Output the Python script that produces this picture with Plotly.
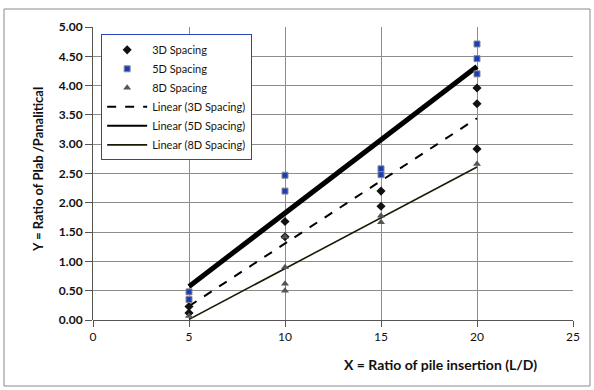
import numpy as np
import plotly.graph_objects as go

# ---- data ----
x_3d = [5, 5, 10, 10, 15, 15, 20, 20, 20]
y_3d = [0.23, 0.12, 1.68, 1.42, 2.20, 1.94, 3.96, 3.69, 2.92]

x_5d = [5, 5, 10, 10, 15, 15, 20, 20, 20]
y_5d = [0.48, 0.35, 2.47, 2.20, 2.58, 2.48, 4.71, 4.46, 4.20]

x_8d = [5, 10, 10, 10, 10, 15, 15, 20]
y_8d = [0.07, 1.42, 0.90, 0.62, 0.50, 1.78, 1.67, 2.66]

x_ticks = [0, 5, 10, 15, 20, 25]
y_ticks = [0.0, 0.5, 1.0, 1.5, 2.0, 2.5, 3.0, 3.5, 4.0, 4.5, 5.0]

FONT = "Lato"


def trend(xs, ys):
    k, b = np.polyfit(xs, ys, 1)
    xx = np.array([min(xs), max(xs)], dtype=float)
    return xx, k * xx + b


fig = go.Figure()

# trendlines
for name, xs, ys, dash, width, color, rank, leg_w in [
    ("Linear (3D Spacing)", x_3d, y_3d, "dash", 2, "#000000", 4, None),
    ("Linear (5D Spacing)", x_5d, y_5d, "solid", 5, "#000000", 5, 2),
    ("Linear (8D Spacing)", x_8d, y_8d, "solid", 1.6, "#1a1a05", 6, None),
]:
    tx, ty = trend(xs, ys)
    fig.add_trace(go.Scatter(
        x=tx, y=ty, mode="lines", name=name, legendrank=rank,
        showlegend=leg_w is None,
        line=dict(color=color, width=width, dash=dash),
    ))
    if leg_w is not None:
        # legend proxy with the thinner legend line, as in the reference
        fig.add_trace(go.Scatter(
            x=[None], y=[None], mode="lines", name=name, legendrank=rank,
            line=dict(color=color, width=leg_w, dash=dash),
        ))

fig.add_trace(go.Scatter(
    x=x_3d, y=y_3d, mode="markers", name="3D Spacing", legendrank=1,
    marker=dict(symbol="diamond", size=7, color="#111111"),
))
fig.add_trace(go.Scatter(
    x=x_5d, y=y_5d, mode="markers", name="5D Spacing", legendrank=2,
    marker=dict(symbol="square", size=6, color="#1a3fb0",
                line=dict(color="#8a8a9a", width=1)),
))
fig.add_trace(go.Scatter(
    x=x_8d, y=y_8d, mode="markers", name="8D Spacing", legendrank=3,
    marker=dict(symbol="triangle-up", size=7, color="#555555"),
))

fig.update_layout(
    width=594, height=390,
    margin=dict(l=93, r=21, t=27, b=70),
    paper_bgcolor="white", plot_bgcolor="white",
    font=dict(family=FONT, size=11, color="#111111"),
    showlegend=True,
    legend=dict(
        x=0.017, y=0.975, xanchor="left", yanchor="top",
        bgcolor="white", bordercolor="#2846b8", borderwidth=1,
        font=dict(family=FONT, size=11, color="#1a1208"),
        tracegroupgap=0, itemwidth=40,
    ),
    xaxis=dict(
        range=[0, 25], tickvals=x_ticks, ticktext=[str(v) for v in x_ticks],
        showgrid=True, gridcolor="#8c8c8c", gridwidth=1,
        showline=False, zeroline=False, automargin=False,
        ticks="outside", ticklen=6, tickcolor="#555555",
        tickfont=dict(family=FONT, size=12, color="#111111"),
    ),
    yaxis=dict(
        range=[0, 5], tickvals=y_ticks, ticktext=[f"{v:.2f}" for v in y_ticks],
        showgrid=True, gridcolor="#8c8c8c", gridwidth=1,
        showline=True, linecolor="#555555", linewidth=1,
        zeroline=True, zerolinecolor="#555555", zerolinewidth=1,
        automargin=False,
        ticks="outside", ticklen=7, tickcolor="#555555",
        tickfont=dict(family=FONT, size=12, color="#111111", weight="bold"),
    ),
    annotations=[
        dict(text="<b>X = Ratio of pile insertion (L/D)</b>", xref="paper", yref="paper",
             x=(440 - 93) / 480, y=(320 - 364) / 293, xanchor="center", yanchor="middle",
             showarrow=False, font=dict(family=FONT, size=14, color="#111111")),
        dict(text="<b>Y = Ratio of Plab /Panalitical</b>", xref="paper", yref="paper",
             x=(38 - 93) / 480, y=(320 - 170) / 293, xanchor="center", yanchor="middle",
             textangle=-90, showarrow=False,
             font=dict(family=FONT, size=13, color="#111111")),
    ],
    shapes=[
        dict(type="rect", xref="paper", yref="paper",
             x0=(4 - 93) / 480, x1=(590 - 93) / 480,
             y0=(320 - 386) / 293, y1=(320 - 9) / 293,
             line=dict(color="#8a8a8a", width=1), fillcolor="rgba(0,0,0,0)", layer="below"),
    ],
)

fig.write_html("out.html", config={"displayModeBar": False},
               post_script="document.body.style.margin='0';")
